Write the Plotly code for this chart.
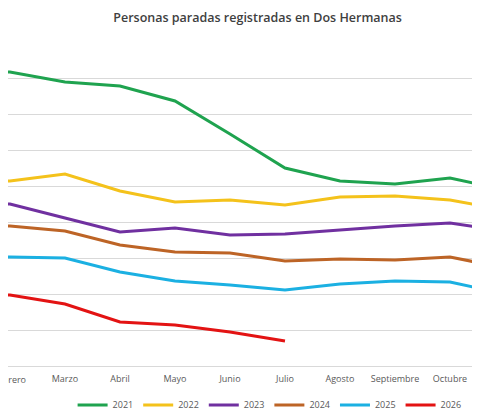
import plotly.graph_objects as go

months = ["Enero","Febrero","Marzo","Abril","Mayo","Junio","Julio","Agosto","Septiembre","Octubre","Noviembre","Diciembre"]
y2021 = [8083,8167,7889,7778,7361,6444,5500,5139,5056,5222,4889]
y2022 = [5083,5139,5333,4861,4556,4611,4472,4694,4722,4611,4333]
y2023 = [4528,4500,4111,3722,3833,3639,3667,3778,3889,3972,3750]
y2024 = [3917,3889,3750,3361,3167,3139,2917,2972,2944,3028,2722]
y2025 = [3028,3028,3000,2611,2361,2250,2111,2278,2361,2333,2000]
y2026 = [2000,1972,1722,1222,1139,944,694]

series = [("2021",y2021,"#1fa34f"),("2022",y2022,"#f4c21b"),("2023",y2023,"#7030a0"),
          ("2024",y2024,"#bd6426"),("2025",y2025,"#1bb0e2"),("2026",y2026,"#e31313")]

fig = go.Figure()
for name, ys, col in series:
    fig.add_trace(go.Scatter(x=list(range(len(ys))), y=ys, name=name, mode="lines",
                             line=dict(color=col, width=3)))

fig.add_annotation(x=1, xref="x", y=0, yref="paper", yshift=-13, text=months[1],
                   showarrow=False, xanchor="center", yanchor="middle",
                   font=dict(family="Open Sans", size=9, color="#595959"))

fig.update_layout(
    width=480, height=420, paper_bgcolor="white", plot_bgcolor="white",
    margin=dict(l=0, r=0, t=34, b=62, autoexpand=False),
    title=dict(text="Personas paradas registradas en Dos Hermanas", x=0.52, y=0.976,
               xanchor="center", yanchor="middle",
               font=dict(family="Open Sans", size=12.5, color="#404040", weight=600)),
    font=dict(family="Open Sans", size=9, color="#595959"),
    xaxis=dict(range=[0.964, 9.691], tickmode="array", tickvals=list(range(12)), ticktext=months,
               showgrid=False, zeroline=False, showline=True, linecolor="#d9d9d9", ticks="",
               automargin=False, ticklabelstandoff=4),
    yaxis=dict(range=[0, 9000], dtick=1000, showgrid=True, gridcolor="#d9d9d9",
               showticklabels=False, zeroline=False, automargin=False),
    legend=dict(orientation="h", x=0.545, xanchor="center", y=-0.12, yanchor="middle",
                font=dict(size=9, color="#595959")),
    showlegend=True,
)
fig.write_html("out.html")
